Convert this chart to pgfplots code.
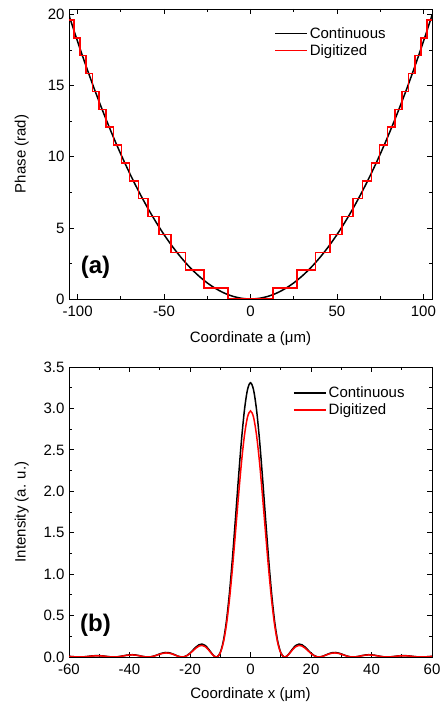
\documentclass[border=0pt]{standalone}
\usepackage{fontspec}
\setmainfont{Liberation Sans}
\usepackage{pgfplots}
\pgfplotsset{compat=1.18}
\definecolor{digred}{RGB}{255,0,0}
\pgfplotsset{
  myaxis/.style={
    scale only axis, width=363pt, height=290pt,
    tick align=inside, major tick length=5pt, minor tick length=3pt,
    minor x tick num=1, minor y tick num=1,
    axis line style={black, line width=0.8pt},
    every tick/.style={black, line width=0.8pt},
    /pgf/number format/assume math mode=true,
    tick label style={font=\fontsize{15}{17}\selectfont},
    yticklabel style={xshift=-1pt},
    xticklabel style={yshift=-3pt},
    label style={font=\fontsize{15}{17}\selectfont},
    ylabel style={at={(axis description cs:-0.13,0.5)}, anchor=center},
    xlabel style={at={(axis description cs:0.5,-0.135)}, anchor=center},
    legend style={draw=none, fill=none, font=\fontsize{15}{17}\selectfont,
      inner sep=0pt, row sep=1pt, cells={anchor=west}},
    legend image code/.code={\draw[#1] (0pt,0pt) -- (32pt,0pt);},
  }
}
\begin{document}
\begin{tikzpicture}
\useasboundingbox (0,0) rectangle (440pt,703pt);
% ---------- (a) ----------
\begin{axis}[myaxis, at={(69pt,404pt)}, anchor=south west,
  xmin=-105, xmax=105, ymin=0, ymax=20.4,
  xtick={-100,-50,0,50,100}, ytick={0,5,10,15,20},
  xlabel={Coordinate a (μm)}, ylabel={Phase (rad)},
  legend style={at={(0.565,0.945)}, anchor=north west}]
\addplot[black, line width=1.5pt, smooth] coordinates {
(-105,19.955) (-100,18.1) (-95,16.335) (-90,14.661) (-85,13.077) (-80,11.584)
(-75,10.181) (-70,8.869) (-65,7.647) (-60,6.516) (-55,5.475) (-50,4.525)
(-45,3.665) (-40,2.896) (-35,2.217) (-30,1.629) (-25,1.131) (-20,0.724)
(-15,0.407) (-10,0.181) (-5,0.045) (0,0) (5,0.045) (10,0.181) (15,0.407)
(20,0.724) (25,1.131) (30,1.629) (35,2.217) (40,2.896) (45,3.665) (50,4.525)
(55,5.475) (60,6.516) (65,7.647) (70,8.869) (75,10.181) (80,11.584)
(85,13.077) (90,14.661) (95,16.335) (100,18.1) (105,19.955)};
\addlegendentry{Continuous}
\addplot[digred, line width=1.5pt, const plot] coordinates {
(-105,19.625) (-102.20,18.368) (-98.74,17.111) (-95.16,15.854) (-91.44,14.597)
(-87.56,13.340) (-83.50,12.083) (-79.23,10.826) (-74.72,9.569) (-69.92,8.312)
(-64.77,7.055) (-59.16,5.798) (-52.97,4.541) (-45.95,3.284) (-37.64,2.027)
(-26.87,0.770) (-13.09,0)
(13.09,0.770) (26.87,2.027) (37.64,3.284) (45.95,4.541) (52.97,5.798)
(59.16,7.055) (64.77,8.312) (69.92,9.569) (74.72,10.826) (79.23,12.083)
(83.50,13.340) (87.56,14.597) (91.44,15.854) (95.16,17.111) (98.74,18.368)
(102.20,19.625) (105,19.625)};
\addlegendentry{Digitized}
\node[font=\fontsize{24}{28}\selectfont\bfseries] at (rel axis cs:0.073,0.11) {(a)};
\end{axis}
% ---------- (b) ----------
\begin{axis}[myaxis, at={(69pt,46pt)}, anchor=south west,
  xmin=-60, xmax=60, ymin=0, ymax=3.5,
  xtick={-60,-40,...,60}, ytick={0,0.5,...,3.5},
  yticklabel style={/pgf/number format/.cd, fixed, fixed zerofill, precision=1},
  xlabel={Coordinate x (μm)}, ylabel={Intensity (a. u.)},
  xlabel style={at={(axis description cs:0.5,-0.128)}},
  legend style={at={(0.617,0.94)}, anchor=north west}]
\addplot[black, line width=1.5pt, smooth] coordinates {
(-60,0.0081) (-59,0.0050) (-58,0.0021) (-57,0.0003) (-56,0.0003) (-55,0.0023)
(-54,0.0060) (-53,0.0104) (-52,0.0143) (-51,0.0164) (-50,0.0162) (-49,0.0135)
(-48,0.0092) (-47,0.0045) (-46,0.0010) (-45,0.0001) (-44,0.0024) (-43,0.0076)
(-42,0.0147) (-41,0.0215) (-40,0.0263) (-39,0.0275) (-38,0.0245) (-37,0.0180)
(-36,0.0100) (-35,0.0032) (-34,0.0000) (-33,0.0024) (-32,0.0106) (-31,0.0232)
(-30,0.0372) (-29,0.0487) (-28,0.0544) (-27,0.0520) (-26,0.0416) (-25,0.0262)
(-24,0.0107) (-23,0.0010) (-22,0.0024) (-21,0.0180) (-20,0.0469) (-19,0.0840)
(-18,0.1212) (-17,0.1481) (-16,0.1559) (-15,0.1396) (-14,0.1017) (-13,0.0525)
(-12,0.0111) (-11,0.0025) (-10,0.0540) (-9,0.1886) (-8,0.4219) (-7,0.7563)
(-6,1.1783) (-5,1.6580) (-4,2.1509) (-3,2.6101) (-2,2.9822) (-1,3.2256)
(0,3.310)
(1,3.2256) (2,2.9822) (3,2.6101) (4,2.1509) (5,1.6580) (6,1.1783) (7,0.7563)
(8,0.4219) (9,0.1886) (10,0.0540) (11,0.0025) (12,0.0111) (13,0.0525)
(14,0.1017) (15,0.1396) (16,0.1559) (17,0.1481) (18,0.1212) (19,0.0840)
(20,0.0469) (21,0.0180) (22,0.0024) (23,0.0010) (24,0.0107) (25,0.0262)
(26,0.0416) (27,0.0520) (28,0.0544) (29,0.0487) (30,0.0372) (31,0.0232)
(32,0.0106) (33,0.0024) (34,0.0000) (35,0.0032) (36,0.0100) (37,0.0180)
(38,0.0245) (39,0.0275) (40,0.0263) (41,0.0215) (42,0.0147) (43,0.0076)
(44,0.0024) (45,0.0001) (46,0.0010) (47,0.0045) (48,0.0092) (49,0.0135)
(50,0.0162) (51,0.0164) (52,0.0143) (53,0.0104) (54,0.0060) (55,0.0023)
(56,0.0003) (57,0.0003) (58,0.0021) (59,0.0050) (60,0.0081)};
\addlegendentry{Continuous}
\addplot[digred, line width=1.5pt, smooth] coordinates {
(-60,0.0073) (-59,0.0045) (-58,0.0019) (-57,0.0002) (-56,0.0002) (-55,0.0021)
(-54,0.0054) (-53,0.0093) (-52,0.0128) (-51,0.0147) (-50,0.0145) (-49,0.0121)
(-48,0.0082) (-47,0.0040) (-46,0.0009) (-45,0.0001) (-44,0.0021) (-43,0.0068)
(-42,0.0132) (-41,0.0193) (-40,0.0236) (-39,0.0247) (-38,0.0220) (-37,0.0162)
(-36,0.0090) (-35,0.0028) (-34,0.0000) (-33,0.0022) (-32,0.0095) (-31,0.0208)
(-30,0.0334) (-29,0.0437) (-28,0.0488) (-27,0.0466) (-26,0.0374) (-25,0.0236)
(-24,0.0096) (-23,0.0009) (-22,0.0022) (-21,0.0161) (-20,0.0420) (-19,0.0754)
(-18,0.1087) (-17,0.1329) (-16,0.1399) (-15,0.1253) (-14,0.0912) (-13,0.0471)
(-12,0.0100) (-11,0.0022) (-10,0.0484) (-9,0.1692) (-8,0.3785) (-7,0.6786)
(-6,1.0573) (-5,1.4877) (-4,1.9299) (-3,2.3420) (-2,2.6759) (-1,2.8942)
(0,2.970)
(1,2.8942) (2,2.6759) (3,2.3420) (4,1.9299) (5,1.4877) (6,1.0573) (7,0.6786)
(8,0.3785) (9,0.1692) (10,0.0484) (11,0.0022) (12,0.0100) (13,0.0471)
(14,0.0912) (15,0.1253) (16,0.1399) (17,0.1329) (18,0.1087) (19,0.0754)
(20,0.0420) (21,0.0161) (22,0.0022) (23,0.0009) (24,0.0096) (25,0.0236)
(26,0.0374) (27,0.0466) (28,0.0488) (29,0.0437) (30,0.0334) (31,0.0208)
(32,0.0095) (33,0.0022) (34,0.0000) (35,0.0028) (36,0.0090) (37,0.0162)
(38,0.0220) (39,0.0247) (40,0.0236) (41,0.0193) (42,0.0132) (43,0.0068)
(44,0.0021) (45,0.0001) (46,0.0009) (47,0.0040) (48,0.0082) (49,0.0121)
(50,0.0145) (51,0.0147) (52,0.0128) (53,0.0093) (54,0.0054) (55,0.0021)
(56,0.0002) (57,0.0002) (58,0.0019) (59,0.0045) (60,0.0073)};
\addlegendentry{Digitized}
\node[font=\fontsize{24}{28}\selectfont\bfseries] at (rel axis cs:0.073,0.11) {(b)};
\end{axis}
\end{tikzpicture}
\end{document}
